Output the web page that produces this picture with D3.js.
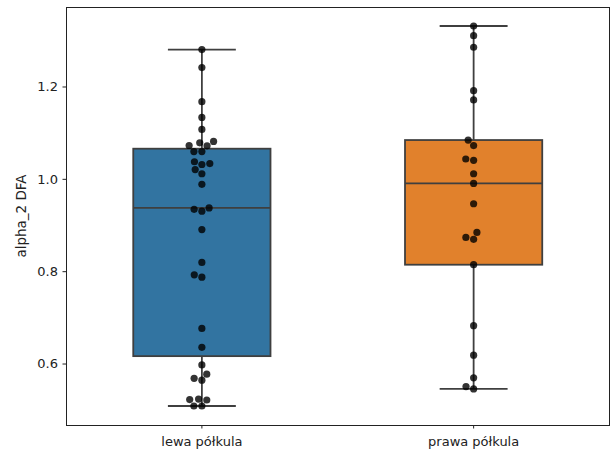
<!DOCTYPE html>
<html><head><meta charset="utf-8">
<script src="https://cdn.jsdelivr.net/npm/d3@7"></script>
<style>
body{margin:0;background:#fff}
svg{display:block}
text{font-family:"DejaVu Sans",sans-serif;fill:#222}
</style>
</head><body>
<svg id="c" width="611" height="453"></svg>
<script>
// ---- data ----
const categories = ["lewa półkula", "prawa półkula"];
const lewaValues = [1.280, 1.241, 1.167, 1.133, 1.107, 1.081, 1.078, 1.0722, 1.0715, 1.059, 1.059,
  1.037, 1.033, 1.031, 1.020, 1.011, 0.988, 0.937, 0.934, 0.930, 0.890, 0.819, 0.792, 0.787,
  0.676, 0.635, 0.597, 0.577, 0.568, 0.564, 0.523, 0.522, 0.521, 0.508, 0.508];
const prawaValues = [1.331, 1.310, 1.285, 1.191, 1.171, 1.084, 1.072, 1.043, 1.040, 1.011, 0.990,
  0.946, 0.884, 0.873, 0.869, 0.814, 0.682, 0.618, 0.569, 0.550, 0.545];
const yTicks = [0.6, 0.8, 1.0, 1.2];
const yLabel = "alpha_2 DFA";
const boxColors = ["#3274a1", "#e1812c"];

const seriesValues = [lewaValues, prawaValues];

// ---- layout ----
const svg = d3.select("#c");
const L = 66, R = 609.5, T = 7, B = 425;
const lineCol = "#3f3f3f";

const all = seriesValues.flat();
const [mn, mx] = d3.extent(all);
const pad = (mx - mn) * 0.05;
const y = d3.scaleLinear().domain([mn - pad, mx + pad]).range([B, T]);
const x = d3.scaleBand().domain(categories).range([L, R]).padding(0);
const bw = x.bandwidth();

const boxW = bw * 0.505, capW = bw * 0.25;

const g = svg.append("g");

seriesValues.forEach((vals, i) => {
  const cx = x(categories[i]) + bw / 2;
  const s = vals.slice().sort(d3.ascending);
  const q1 = d3.quantileSorted(s, 0.25), med = d3.quantileSorted(s, 0.5), q3 = d3.quantileSorted(s, 0.75);
  const iqr = q3 - q1;
  const lo = d3.min(s.filter(v => v >= q1 - 1.5 * iqr));
  const hi = d3.max(s.filter(v => v <= q3 + 1.5 * iqr));
  const gg = g.append("g");
  gg.append("line").attr("x1", cx).attr("x2", cx).attr("y1", y(q3)).attr("y2", y(hi))
    .attr("stroke", lineCol).attr("stroke-width", 1.8);
  gg.append("line").attr("x1", cx).attr("x2", cx).attr("y1", y(q1)).attr("y2", y(lo))
    .attr("stroke", lineCol).attr("stroke-width", 1.8);
  gg.append("line").attr("x1", cx - capW / 2).attr("x2", cx + capW / 2).attr("y1", y(hi)).attr("y2", y(hi))
    .attr("stroke", lineCol).attr("stroke-width", 1.8);
  gg.append("line").attr("x1", cx - capW / 2).attr("x2", cx + capW / 2).attr("y1", y(lo)).attr("y2", y(lo))
    .attr("stroke", lineCol).attr("stroke-width", 1.8);
  gg.append("rect").attr("x", cx - boxW / 2).attr("y", y(q3)).attr("width", boxW).attr("height", y(q1) - y(q3))
    .attr("fill", boxColors[i]).attr("stroke", lineCol).attr("stroke-width", 1.8);
  gg.append("line").attr("x1", cx - boxW / 2).attr("x2", cx + boxW / 2).attr("y1", y(med)).attr("y2", y(med))
    .attr("stroke", lineCol).attr("stroke-width", 1.8);
});

// ---- swarm (seaborn-like beeswarm) ----
const rr = 3.8;
function beeswarm(vals, mid) {
  const pts = vals.slice().sort(d3.ascending).map(v => ({ v, x: mid, y: y(v) }));
  const placed = [];
  pts.forEach((p, i) => {
    if (i === 0) { placed.push(p); return; }
    const nb = [];
    for (let j = placed.length - 1; j >= 0; j--) {
      if (Math.abs(p.y - placed[j].y) < 2 * rr) nb.push(placed[j]); else break;
    }
    const cands = [mid];
    let leftFirst = true;
    nb.forEach(q => {
      const dy = p.y - q.y;
      const dx = Math.sqrt(Math.max(4 * rr * rr - dy * dy, 0)) * 1.05;
      const cl = q.x - dx, cr = q.x + dx;
      if (leftFirst) cands.push(cl, cr); else cands.push(cr, cl);
      leftFirst = !leftFirst;
    });
    const sorted = cands.map((c, k) => ({ c, k })).sort((a, b) => (Math.abs(a.c - mid) - Math.abs(b.c - mid)) || (a.k - b.k));
    let chosen = sorted[0].c;
    for (const s of sorted) {
      const ok = nb.every(q => (q.x - s.c) ** 2 + (q.y - p.y) ** 2 >= (2 * rr) ** 2 - 1e-9);
      if (ok) { chosen = s.c; break; }
    }
    p.x = chosen;
    placed.push(p);
  });
  return placed;
}

seriesValues.forEach((vals, i) => {
  const cx = x(categories[i]) + bw / 2;
  const pts = beeswarm(vals, cx);
  g.append("g").selectAll("circle").data(pts).join("circle")
    .attr("cx", d => d.x).attr("cy", d => d.y).attr("r", 3.6)
    .attr("fill", "#000").attr("fill-opacity", 0.8);
});

// ---- axes ----
const ya = svg.append("g").attr("transform", `translate(${L},0)`)
  .call(d3.axisLeft(y).tickValues(yTicks).tickFormat(d3.format(".1f")).tickSize(3.5).tickPadding(4.5));
const xa = svg.append("g").attr("transform", `translate(0,${B})`)
  .call(d3.axisBottom(x).tickSize(3.5).tickPadding(8));
[ya, xa].forEach(a => {
  a.select(".domain").remove();
  a.selectAll(".tick line").attr("stroke", "#222").attr("stroke-width", 1);
  a.selectAll(".tick text").attr("font-size", 13).attr("fill", "#222").style("font-family", '"DejaVu Sans",sans-serif');
});

svg.append("rect").attr("x", L + 0.5).attr("y", T + 0.5).attr("width", R - L - 0.5).attr("height", B - T)
  .attr("fill", "none").attr("stroke", "#222").attr("stroke-width", 1);

svg.append("text").attr("transform", `translate(26,${(T + B) / 2}) rotate(-90)`)
  .attr("text-anchor", "middle").attr("font-size", 13.5).text(yLabel);
</script>
</body></html>
